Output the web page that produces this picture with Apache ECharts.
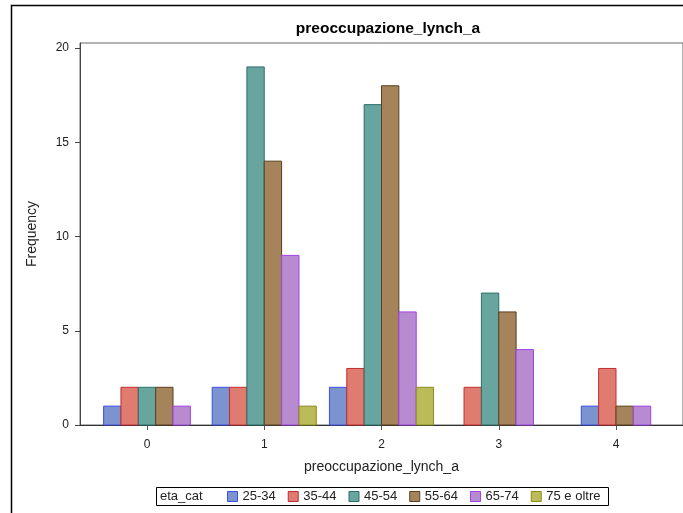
<!DOCTYPE html>
<html>
<head>
<meta charset="utf-8">
<script src="https://cdn.jsdelivr.net/npm/echarts@6/dist/echarts.min.js"></script>
<style>html,body{margin:0;padding:0;background:#fff}#c{width:683px;height:513px}</style>
</head>
<body>
<div id="c"></div>
<script>
const categories = [0, 1, 2, 3, 4];
const groups = ['25-34', '35-44', '45-54', '55-64', '65-74', '75 e oltre'];
const v2534 = [1, 2, 2, null, 1];
const v3544 = [2, 2, 3, 2, 3];
const v4554 = [2, 19, 17, 7, null];
const v5564 = [2, 14, 18, 6, 1];
const v6574 = [1, 9, 6, 4, 1];
const v75plus = [null, 1, 2, null, null];
const yTicks = [0, 5, 10, 15, 20];
const titleText = 'preoccupazione_lynch_a';
const xName = 'preoccupazione_lynch_a';
const yName = 'Frequency';
const legendTitle = 'eta_cat';

const values = [v2534, v3544, v4554, v5564, v6574, v75plus];
const fills = ['#7b93cf', '#e07c6f', '#67a59e', '#a5845b', '#b88bd1', '#bcbb5a'];
const edges = ['#3b4ee8', '#c42b30', '#2c6e68', '#5a3f1e', '#a040e6', '#8a8a1f'];
const FONT = 'Liberation Sans, Arial, sans-serif';

function makeRender(s) {
  return function (params, api) {
    const c = api.value(0), v = api.value(1);
    const ci = categories.indexOf(c);
    const present = [];
    values.forEach((arr, gi) => { if (arr[ci] !== null && arr[ci] !== undefined) present.push(gi); });
    const n = present.length, idx = present.indexOf(s);
    const bw = api.size([1, 0])[0] * 0.148;
    const base = api.coord([c, 0]);
    const top = api.coord([c, v]);
    const x0 = base[0] - n * bw / 2 + idx * bw;
    return {
      type: 'rect',
      shape: { x: x0, y: top[1], width: bw, height: base[1] - top[1] },
      style: { fill: fills[s], stroke: edges[s], lineWidth: 1 }
    };
  };
}

const series = groups.map((g, s) => ({
  name: g,
  type: 'custom',
  renderItem: makeRender(s),
  itemStyle: { color: fills[s], borderColor: edges[s], borderWidth: 1 },
  encode: { x: 0, y: 1 },
  data: categories.map((c, i) => values[s][i] === null ? null : [c, values[s][i]]).filter(d => d)
}));

const chart = echarts.init(document.getElementById('c'), null, { renderer: 'canvas' });
chart.setOption({
  animation: false,
  backgroundColor: '#fff',
  title: {
    text: titleText, left: 383, textAlign: 'center', top: 16,
    textStyle: { fontFamily: FONT, fontSize: 15.5, fontWeight: 'bold', color: '#000' }
  },
  grid: { left: 80, right: 0, top: 43, bottom: 88, show: true, borderColor: '#666', borderWidth: 1, backgroundColor: 'transparent' },
  xAxis: {
    type: 'value', min: -0.5714, max: 4.5714,
    name: xName, nameLocation: 'middle', nameGap: 35,
    nameTextStyle: { fontFamily: FONT, fontSize: 14, color: '#222' },
    axisLine: { show: true, onZero: false, lineStyle: { color: '#333', width: 1 } },
    axisTick: { show: true, customValues: categories, length: 5, lineStyle: { color: '#555' } },
    axisLabel: { customValues: categories, margin: 14, fontFamily: FONT, fontSize: 12, color: '#222' },
    splitLine: { show: false }
  },
  yAxis: {
    type: 'value', min: 0, max: 20.27,
    name: yName, nameLocation: 'middle', nameGap: 41,
    nameTextStyle: { fontFamily: FONT, fontSize: 14, color: '#222' },
    axisLine: { show: true, onZero: false, lineStyle: { color: '#444', width: 1 } },
    axisTick: { show: true, customValues: yTicks, length: 5, lineStyle: { color: '#444' } },
    axisLabel: { customValues: yTicks, margin: 11, fontFamily: FONT, fontSize: 12, color: '#222' },
    splitLine: { show: false }
  },
  legend: {
    left: 227, top: 490, itemWidth: 10, itemHeight: 10, itemGap: 12,
    padding: 0, icon: 'rect',
    textStyle: { fontFamily: FONT, fontSize: 13, color: '#222' },
    data: groups.map((g, s) => ({ name: g, itemStyle: { color: fills[s], borderColor: edges[s], borderWidth: 1 } }))
  },
  graphic: [
    { type: 'rect', silent: true, shape: { x: 11.5, y: 5.5, width: 800, height: 700 }, style: { fill: 'none', stroke: '#000', lineWidth: 1.5 } },
    { type: 'rect', silent: true, shape: { x: 156.5, y: 487.5, width: 452, height: 18 }, style: { fill: 'none', stroke: '#000', lineWidth: 1 } },
    { type: 'text', silent: true, x: 160, y: 496.5, style: { text: legendTitle, fill: '#222', font: '13px ' + FONT, verticalAlign: 'middle' } }
  ],
  series: series
});
</script>
</body>
</html>
